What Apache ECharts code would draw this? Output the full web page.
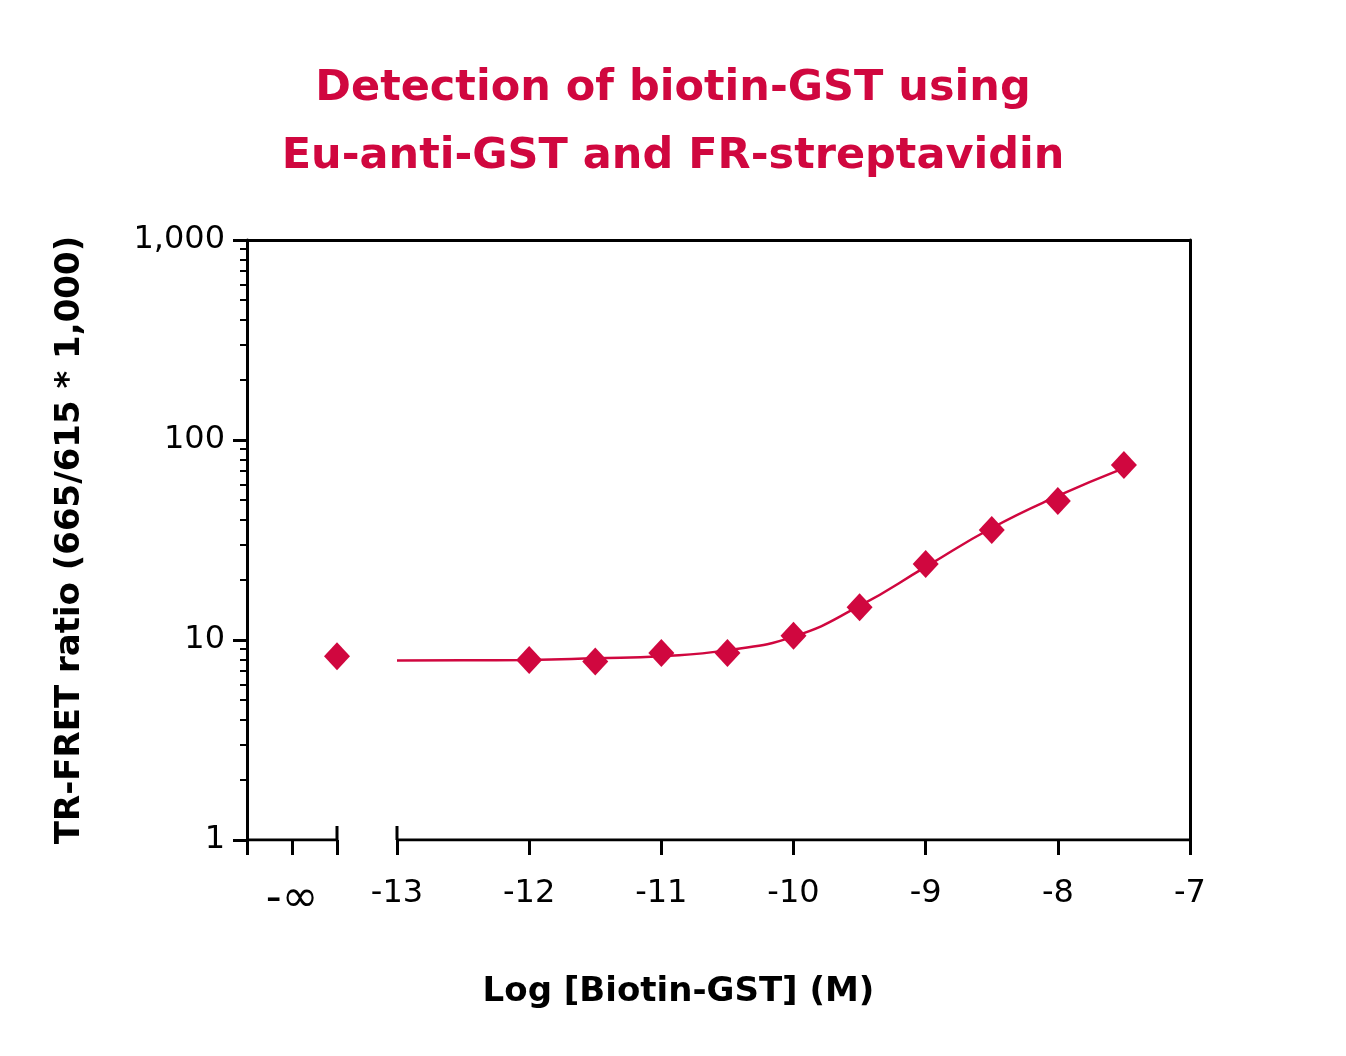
<!DOCTYPE html>
<html>
<head>
<meta charset="UTF-8">
<title>Detection of biotin-GST</title>
<script src="https://cdn.jsdelivr.net/npm/echarts@6/dist/echarts.min.js"></script>
<style>
html, body { margin: 0; background: #fff; }
#chart { width: 1346px; height: 1056px; }
</style>
</head>
<body>
<div id="chart"></div>
<script>
// position of the -∞ point on the broken x axis
const xMin = -14.135;
const xInfLabel = -13.794;
const xInf = -13.454;

// measured points
const pointX = [xInf, -12, -11.5, -11, -10.5, -10, -9.5, -9, -8.5, -8, -7.5];
const pointY = [8.3, 7.95, 7.8, 8.6, 8.6, 10.5, 14.6, 24, 35.5, 49.5, 75];

// fitted curve
const fitX = [-13, -12.5, -12, -11.5, -11, -10.5, -10, -9.5, -9, -8.5, -8, -7.5];
const fitY = [7.9, 7.92, 7.95, 8.1, 8.3, 8.9, 10.4, 14.8, 23.2, 36.3, 52.5, 72.4];

const xLabels = [xInfLabel, -13, -12, -11, -10, -9, -8, -7];
const xTicks = [xMin, xInfLabel, xInf, -13, -12, -11, -10, -9, -8, -7];
const yMinor = [2,3,4,5,6,7,8,9,20,30,40,50,60,70,80,90,200,300,400,500,600,700,800,900];

const red = '#d0073f';
const font = 'DejaVu Sans';
const chart = echarts.init(document.getElementById('chart'));

const pair = (xs, ys) => xs.map((x, i) => [x, ys[i]]);
const black = { color: '#000', width: 3 };

chart.setOption({
  animation: false,
  title: {
    text: 'Detection of biotin-GST using\nEu-anti-GST and FR-streptavidin',
    left: 'center', top: 50,
    textStyle: { color: red, fontFamily: font, fontWeight: 'bold', fontSize: 43, lineHeight: 68 }
  },
  grid: { left: 247, right: 156, top: 240, bottom: 216 },
  xAxis: [{
    type: 'value', min: xMin, max: -7,
    name: 'Log [Biotin-GST] (M)', nameLocation: 'middle', nameGap: 135,
    nameTextStyle: { fontFamily: font, fontWeight: 'bold', fontSize: 34, color: '#000', padding: [0, 80, 0, 0] },
    splitLine: { show: false },
    axisLine: { show: false },
    axisTick: { show: true, inside: false, length: 15, lineStyle: black, customValues: xTicks },
    axisLabel: {
      customValues: xLabels, margin: 38, color: '#000', fontFamily: font, fontSize: 32,
      formatter: v => v === xInfLabel ? '{inf|-∞}' : String(v),
      rich: { inf: { fontFamily: font, fontSize: 44, color: '#000' } }
    }
  }, {
    type: 'value', min: xMin, max: -7, position: 'top',
    axisLine: { show: true, lineStyle: black },
    axisTick: { show: false }, axisLabel: { show: false }, splitLine: { show: false }
  }],
  yAxis: [{
    type: 'log', min: 1, max: 1000, logBase: 10,
    name: 'TR-FRET ratio (665/615 * 1,000)', nameLocation: 'middle', nameGap: 160,
    nameTextStyle: { fontFamily: font, fontWeight: 'bold', fontSize: 34, color: '#000' },
    axisLine: { show: true, lineStyle: black },
    axisTick: { show: true, length: 14, lineStyle: black },
    axisLabel: { color: '#000', fontFamily: font, fontSize: 32, margin: 22,
      formatter: v => v.toLocaleString('en-US') },
    splitLine: { show: false }
  }, {
    type: 'log', min: 1, max: 1000, position: 'left',
    axisLine: { show: false },
    axisTick: { show: true, length: 7, lineStyle: { color: '#000', width: 2 }, customValues: yMinor },
    axisLabel: { show: false }, splitLine: { show: false }
  }, {
    type: 'log', min: 1, max: 1000, position: 'right',
    axisLine: { show: true, lineStyle: black },
    axisTick: { show: false }, axisLabel: { show: false }, splitLine: { show: false }
  }],
  series: [
    // broken bottom axis line
    { type: 'line', data: [[xMin, 1], [xInf, 1]], symbol: 'none', lineStyle: black, silent: true, z: 1 },
    { type: 'line', data: [[-13, 1], [-7, 1]], symbol: 'none', lineStyle: black, silent: true, z: 1 },
    { type: 'line', data: [[xInf, 1], [xInf, 1.175]], symbol: 'none', lineStyle: black, silent: true, z: 1 },
    { type: 'line', data: [[-13, 1], [-13, 1.175]], symbol: 'none', lineStyle: black, silent: true, z: 1 },
    {
      type: 'line', data: pair(fitX, fitY), smooth: true, symbol: 'none',
      lineStyle: { color: red, width: 2.5 }, z: 2
    },
    {
      type: 'scatter', data: pair(pointX, pointY), symbol: 'diamond', symbolSize: [26, 28],
      itemStyle: { color: red, opacity: 1 }, z: 3
    }
  ]
});
</script>
</body>
</html>
